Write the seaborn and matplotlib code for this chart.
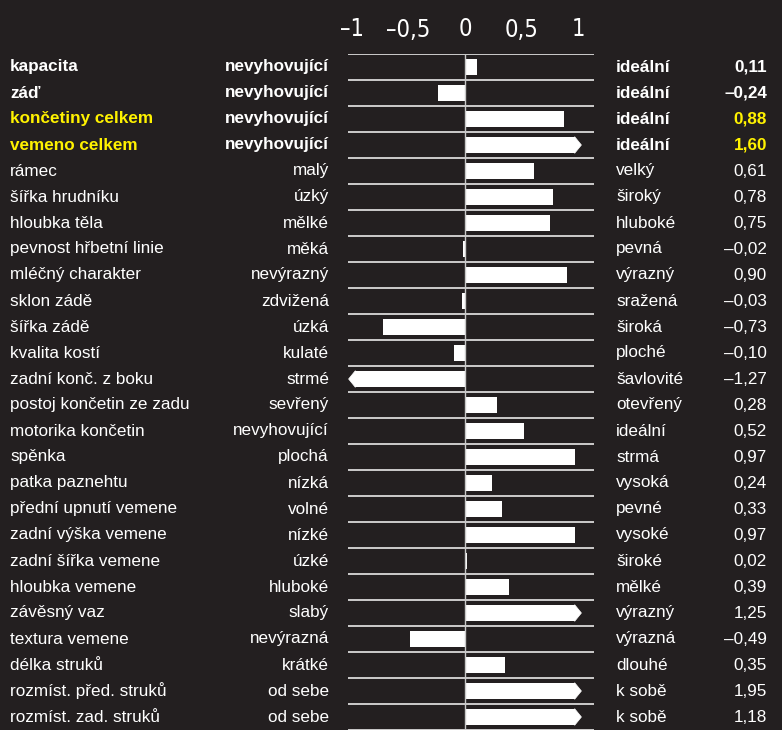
import matplotlib
matplotlib.use("Agg")
import matplotlib.pyplot as plt
import seaborn as sns
import numpy as np
import pandas as pd
from matplotlib.patches import Polygon
import matplotlib.transforms as mtransforms

# ---------------- data ----------------
traits = ["kapacita", "záď", "končetiny celkem", "vemeno celkem", "rámec",
          "šířka hrudníku", "hloubka těla", "pevnost hřbetní linie", "mléčný charakter",
          "sklon zádě", "šířka zádě", "kvalita kostí", "zadní konč. z boku",
          "postoj končetin ze zadu", "motorika končetin", "spěnka", "patka paznehtu",
          "přední upnutí vemene", "zadní výška vemene", "zadní šířka vemene",
          "hloubka vemene", "závěsný vaz", "textura vemene", "délka struků",
          "rozmíst. před. struků", "rozmíst. zad. struků"]
low_labels = ["nevyhovující", "nevyhovující", "nevyhovující", "nevyhovující", "malý",
              "úzký", "mělké", "měká", "nevýrazný", "zdvižená", "úzká", "kulaté", "strmé",
              "sevřený", "nevyhovující", "plochá", "nízká", "volné", "nízké", "úzké",
              "hluboké", "slabý", "nevýrazná", "krátké", "od sebe", "od sebe"]
high_labels = ["ideální", "ideální", "ideální", "ideální", "velký", "široký", "hluboké",
               "pevná", "výrazný", "sražená", "široká", "ploché", "šavlovité", "otevřený",
               "ideální", "strmá", "vysoká", "pevné", "vysoké", "široké", "mělké",
               "výrazný", "výrazná", "dlouhé", "k sobě", "k sobě"]
values = [0.11, -0.24, 0.88, 1.60, 0.61, 0.78, 0.75, -0.02, 0.90, -0.03, -0.73, -0.10,
          -1.27, 0.28, 0.52, 0.97, 0.24, 0.33, 0.97, 0.02, 0.39, 1.25, -0.49, 0.35,
          1.95, 1.18]
tick_values = [-1, -0.5, 0, 0.5, 1]
tick_labels = ["–1", "–0,5", "0", "0,5", "1"]
bold_rows = [0, 1, 2, 3]
yellow_rows = [2, 3]

# ---------------- style ----------------
BG = "#231f20"
YELLOW = "#fff200"
WHITE = "#ffffff"
LINE = "#d9d9d9"
BODY_MAX = 0.97
TIP = 1.03
BAR_H = 0.64

sns.set_theme(style="white")
plt.rcParams["font.family"] = ["Liberation Sans", "DejaVu Sans"]

W, H = 782, 730
fig = plt.figure(figsize=(W / 100, H / 100), dpi=100, facecolor=BG)
ax_left, ax_right = 348 / W, 594 / W
ax_top = 54
ax = fig.add_axes([ax_left, 0, ax_right - ax_left, (H - ax_top) / H])
ax.set_facecolor(BG)

n = len(traits)
shown = [max(-BODY_MAX, min(BODY_MAX, v)) for v in values]
df = pd.DataFrame({"trait": traits, "shown": shown})
sns.barplot(data=df, x="shown", y="trait", orient="h", color=WHITE, saturation=1,
            width=BAR_H, linewidth=0, ax=ax, zorder=2)

# arrow tips for values beyond the scale
for i, v in enumerate(values):
    if abs(v) > 1:
        s = np.sign(v)
        poly = Polygon([(s * BODY_MAX, i - BAR_H / 2), (s * TIP, i),
                        (s * BODY_MAX, i + BAR_H / 2)], closed=True,
                       facecolor=WHITE, edgecolor=WHITE, linewidth=0.5, zorder=2)
        ax.add_patch(poly)

xmin = (348 - 465) / 113
xmax = (594 - 465) / 113
ax.set_xlim(xmin, xmax)
ax.set_ylim(n - 0.5, -0.5)

# row separators
for k in range(n + 1):
    ax.axhline(k - 0.5, color=LINE, linewidth=1.3, zorder=3)
ax.axvline(0, color="#c8c8c8", linewidth=1.0, zorder=4)

for sp in ax.spines.values():
    sp.set_visible(False)
ax.set_xlabel("")
ax.set_ylabel("")
ax.set_yticks([])
ax.xaxis.tick_top()
ax.set_xticks(tick_values)
ax.set_xticklabels(tick_labels, color=WHITE, fontsize=17,
                   family=["DejaVu Sans"], fontstretch="condensed", fontweight="light")
ax.tick_params(axis="x", length=0, pad=9)

# side texts
tr = mtransforms.blended_transform_factory(fig.transFigure, ax.transData)
fs = 12.3
for i in range(n):
    bold = i in bold_rows
    fw = "bold" if bold else "normal"
    c_trait = YELLOW if i in yellow_rows else WHITE
    ax.text(10 / W, i, traits[i], transform=tr, ha="left", va="center",
            color=c_trait, fontsize=fs, fontweight=fw)
    ax.text(329 / W, i, low_labels[i], transform=tr, ha="right", va="center",
            color=WHITE, fontsize=fs, fontweight=fw)
    ax.text(616 / W, i, high_labels[i], transform=tr, ha="left", va="center",
            color=WHITE, fontsize=fs, fontweight=fw)
    vtxt = f"{values[i]:.2f}".replace(".", ",").replace("-", "–")
    ax.text(767 / W, i, vtxt, transform=tr, ha="right", va="center",
            color=c_trait, fontsize=fs, fontweight=fw)

fig.savefig("out.png", dpi=100, facecolor=BG)
